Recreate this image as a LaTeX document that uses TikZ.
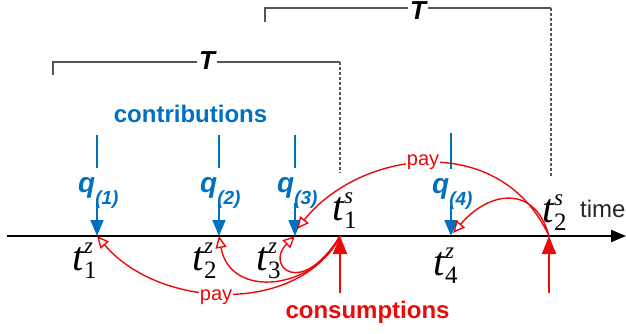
\documentclass[tikz,border=0pt]{standalone}
\usepackage{fontspec}
\setmainfont{Liberation Sans}
\newfontfamily\tnr{Liberation Serif}
\usetikzlibrary{arrows.meta}
\definecolor{cblue}{RGB}{0,112,192}
\definecolor{cred}{RGB}{235,10,10}
\definecolor{cgray}{RGB}{85,85,85}
\newcommand{\tlab}[2]{{\tnr\fontsize{41}{41}\selectfont\itshape t\kern0.5pt\rlap{\raisebox{0.40em}{\fontsize{23}{23}\selectfont #2}}\raisebox{-0.2em}{\fontsize{25}{25}\selectfont\upshape #1}}}
\newcommand{\qlab}[1]{q\raisebox{-12pt}{\fontsize{19}{19}\selectfont(#1)}}
\begin{document}
\begin{tikzpicture}[x=1pt,y=-1pt,
  axisline/.style={line width=2.2pt,-{Triangle[length=15pt,width=12pt]}},
  contrib/.style={cblue,line width=1.7pt},
  contribarrow/.style={contrib,-{Triangle[length=16pt,width=13pt]}},
  consarrow/.style={cred,line width=2pt,-{Triangle[length=18pt,width=14pt]}},
  payarc/.style={cred,line width=1.4pt,-{Triangle[length=12pt,width=11pt,fill=white]}},
  bracket/.style={cgray,line width=1.8pt},
  bracketdash/.style={bracket,dash pattern=on 3pt off 2pt},
  tlabel/.style={inner sep=0pt,anchor=base west},
  qlabel/.style={inner sep=0pt,anchor=base west,text=cblue,font=\fontsize{28}{28}\selectfont\bfseries\itshape},
  Tlabel/.style={inner sep=2pt,font=\fontsize{26}{26}\selectfont\bfseries\itshape},
  paylabel/.style={inner sep=1pt,fill=white,text=cred,font=\fontsize{20}{20}\selectfont},
  biglabel/.style={inner sep=0pt,anchor=base,font=\fontsize{24}{24}\selectfont\bfseries}
]
\useasboundingbox (0,0) rectangle (626,334);
% axis points
\coordinate (ax0) at (7,236);
\coordinate (ax1) at (626,236);
\coordinate (z1) at (97,236);
\coordinate (z2) at (219,236);
\coordinate (z3) at (295,236);
\coordinate (z4) at (451,236);
\coordinate (s1) at (340,236);
\coordinate (s2) at (549,236);
\coordinate (z3b) at (297,229);
\coordinate (z4b) at (453,233);
% axis
\draw[axisline] (ax0) -- (ax1);
\node[inner sep=0pt,anchor=base west,font=\fontsize{24}{24}\selectfont,text=black!85] (time) at (580,217) {time};
% brackets
\node[Tlabel] (T1) at (207,61) {T};
\node[Tlabel] (T2) at (418,11) {T};
\coordinate (b1a) at (53,75);
\coordinate (b1b) at (53,62);
\coordinate (b1c) at (340,62);
\coordinate (b1d) at (340,173);
\coordinate (b2a) at (265,22);
\coordinate (b2b) at (265,8);
\coordinate (b2c) at (551,8);
\coordinate (b2d) at (551,177);
\draw[bracket] (b1a) -- (b1b) -- (T1.west |- b1b);
\draw[bracket] (T1.east |- b1b) -- (b1c);
\draw[bracketdash] (b1c) -- (b1d);
\draw[bracket] (b2a) -- (b2b) -- (T2.west |- b2b);
\draw[bracket] (T2.east |- b2b) -- (b2c);
\draw[bracketdash] (b2c) -- (b2d);
% contributions
\node[biglabel,text=cblue] (contrib) at (190.5,123) {contributions};
\coordinate (z1t) at (97,135);   \coordinate (z1m) at (97,168);  \coordinate (z1l) at (97,203);
\coordinate (z2t) at (219,135);  \coordinate (z2m) at (219,168); \coordinate (z2l) at (219,203);
\coordinate (z3t) at (295,135);  \coordinate (z3m) at (295,168); \coordinate (z3l) at (295,203);
\coordinate (z4t) at (451,133);  \coordinate (z4m) at (451,169); \coordinate (z4l) at (451,205);
\foreach \p in {z1,z2,z3,z4}{
  \draw[contrib] (\p t) -- (\p m);
  \draw[contribarrow] (\p l) -- (\p);
}
\node[qlabel] (q1) at (78,192) {\qlab{1}};
\node[qlabel] (q2) at (200,192) {\qlab{2}};
\node[qlabel] (q3) at (277,192) {\qlab{3}};
\node[qlabel] (q4) at (432,193) {\qlab{4}};
% time labels
\node[tlabel] (lz1) at (72,270) {\tlab{1}{z}};
\node[tlabel] (lz2) at (192,270) {\tlab{2}{z}};
\node[tlabel] (lz3) at (256,270) {\tlab{3}{z}};
\node[tlabel] (lz4) at (433,275) {\tlab{4}{z}};
\node[tlabel] (ls1) at (332,220) {\tlab{1}{s}};
\node[tlabel] (ls2) at (542,222) {\tlab{2}{s}};
% consumptions
\coordinate (c1) at (340,293);
\coordinate (c2) at (549,293);
\draw[consarrow] (c1) -- (s1);
\draw[consarrow] (c2) -- (s2);
\node[biglabel,text=cred] (cons) at (367.5,318) {consumptions};
% pay arcs
\draw[payarc] (s1) .. controls (300,315) and (160,310) .. (z1);
\draw[payarc] (s1) .. controls (315,290) and (230,300) .. (z2);
\draw[payarc] (s1) .. controls (300,300) and (265,265) .. (z3);
\draw[payarc] (s2) .. controls (500,130) and (360,150) .. (z3b);
\draw[payarc] (s2) .. controls (535,185) and (490,190) .. (z4b);
\node[paylabel] (pay1) at (216,297) {pay};
\node[paylabel] (pay2) at (423,162) {pay};
\end{tikzpicture}
\end{document}
